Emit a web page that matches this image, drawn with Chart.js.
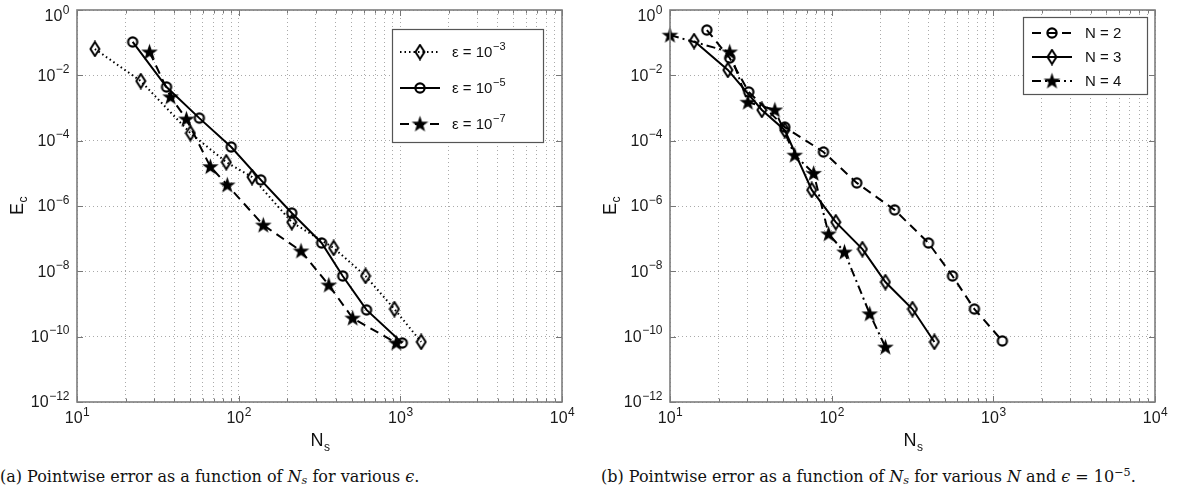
<!DOCTYPE html>
<html>
<head>
<meta charset="utf-8">
<script src="https://cdn.jsdelivr.net/npm/chart.js@4.4.0/dist/chart.umd.min.js"></script>
<style>
  body { margin: 0; background: #fff; width: 1183px; height: 494px; position: relative; overflow: hidden; }
  canvas { position: absolute; top: 0; }
  #errEps { left: 0; }
  #errOrder { left: 590px; }
  .caption {
    position: absolute; top: 467px; line-height: 20px;
    font-family: "DejaVu Serif", "Liberation Serif", serif; font-size: 16px;
    color: #111; white-space: nowrap;
  }
  .caption sub { font-size: 70%; vertical-align: -0.2em; line-height: 0; }
  .caption sup { font-size: 70%; vertical-align: 0.55em; line-height: 0; }
</style>
</head>
<body>
<canvas id="errEps" width="590" height="460"></canvas>
<canvas id="errOrder" width="593" height="460"></canvas>
<div class="caption" style="left:0">(a) Pointwise error as a function of <i>N<sub>s</sub></i> for various <i>ϵ</i>.</div>
<div class="caption" style="left:601px">(b) Pointwise error as a function of <i>N<sub>s</sub></i> for various <i>N</i> and <i>ϵ</i> = 10<sup>−5</sup>.</div>
<script>
// panel (a): error vs number of samples for three tolerances
const nsEps3 = [12.9, 24.8, 50.3, 83.8, 121, 213, 387, 609, 919, 1346];
const errEps3 = [6.4e-2, 6.7e-3, 1.7e-4, 2.2e-5, 7.7e-6, 3.2e-7, 5.2e-8, 7.2e-9, 7.0e-10, 6.9e-11];
const nsEps5 = [22.1, 35.8, 57.1, 89.9, 137, 213, 326, 440, 618, 1028];
const errEps5 = [0.105, 4.4e-3, 4.9e-4, 6.4e-5, 6.3e-6, 6.1e-7, 7.4e-8, 7.2e-9, 6.6e-10, 6.4e-11];
const nsEps7 = [28.1, 37.9, 47.5, 66.8, 85, 142, 243, 361, 507, 944];
const errEps7 = [0.052, 2.2e-3, 4.6e-4, 1.6e-5, 4.4e-6, 2.6e-7, 4.2e-8, 3.8e-9, 3.7e-10, 6.4e-11];

// panel (b): error vs number of samples for N = 2, 3, 4
const nsN2 = [16.9, 23.4, 30.7, 51.3, 89, 143, 245, 397, 559, 764, 1137];
const errN2 = [0.244, 0.034, 3.1e-3, 2.6e-4, 4.5e-5, 5.1e-6, 7.6e-7, 7.4e-8, 7.2e-9, 7.0e-10, 7.4e-11];
const nsN3 = [14.1, 22.8, 37, 51.3, 75.3, 106, 155, 215, 316, 432];
const errN3 = [0.112, 0.0146, 8.7e-4, 2.1e-4, 3.1e-6, 3.2e-7, 4.8e-8, 4.7e-9, 7.0e-10, 6.9e-11];
const nsN4 = [10, 23.4, 30.3, 44.5, 59.1, 77.4, 95.7, 120, 172, 215];
const errN4 = [0.17, 0.052, 1.5e-3, 8.7e-4, 3.6e-5, 1.0e-5, 1.4e-7, 3.9e-8, 5.0e-10, 4.8e-11];

// axis ticks (powers of ten)
const xTickExps = [1, 2, 3, 4];
const yTickExps = [0, -2, -4, -6, -8, -10, -12];

const SANS = '"Liberation Sans", Arial, Helvetica, sans-serif';

// x grid: every 1..9 x 10^n between 10 and 10^4
const xGrid = [];
for (let e = 1; e < 4; e++) for (let m = 1; m < 10; m++) xGrid.push(m * Math.pow(10, e));
xGrid.push(1e4);

function markerCanvas(w, h, draw) {
    const c = document.createElement('canvas');
    c.width = w;
    c.height = h;
    draw(c.getContext('2d'), w, h);
    return c;
}

const diamondMark = markerCanvas(12, 17, (g, w, h) => {
    g.beginPath();
    g.moveTo(w / 2, 1.5);
    g.lineTo(w - 1.5, h / 2);
    g.lineTo(w / 2, h - 1.5);
    g.lineTo(1.5, h / 2);
    g.closePath();
    g.lineWidth = 2;
    g.strokeStyle = '#000';
    g.stroke();
});

const circleMark = markerCanvas(14, 14, (g) => {
    g.beginPath();
    g.arc(7, 7, 4.6, 0, Math.PI * 2);
    g.lineWidth = 2.2;
    g.strokeStyle = '#000';
    g.stroke();
});

const starMark = markerCanvas(19, 19, (g) => {
    g.beginPath();
    for (let i = 0; i < 10; i++) {
        const r = i % 2 ? 3.5 : 8.8;
        const a = -Math.PI / 2 + i * Math.PI / 5;
        g.lineTo(9.5 + r * Math.cos(a), 10 + r * Math.sin(a));
    }
    g.closePath();
    g.fillStyle = '#000';
    g.fill();
});

function toPoints(xs, ys) {
    return xs.map((x, i) => ({ x: x, y: ys[i] }));
}

function series(label, xs, ys, dash, marker) {
    return {
        label: label,
        data: toPoints(xs, ys),
        borderColor: '#000',
        borderWidth: 2,
        borderDash: dash,
        pointStyle: marker,
        pointRadius: 6,
        tension: 0,
        fill: false,
        clip: false
    };
}

// "10" with a raised exponent
function drawPow(ctx, base, exp, x, y, align, size) {
    const sup = exp < 0 ? '\u2212' + (-exp) : String(exp);
    const small = Math.round(size * 0.72);
    ctx.font = size + 'px ' + SANS;
    const wb = ctx.measureText(base).width;
    ctx.font = small + 'px ' + SANS;
    const ws = ctx.measureText(sup).width;
    let x0 = x;
    if (align === 'right') x0 = x - wb - ws;
    if (align === 'center') x0 = x - (wb + ws) / 2;
    ctx.textAlign = 'left';
    ctx.textBaseline = 'middle';
    ctx.font = size + 'px ' + SANS;
    ctx.fillText(base, x0, y);
    ctx.font = small + 'px ' + SANS;
    ctx.fillText(sup, x0 + wb + 0.5, y - size * 0.42);
}

const matlabAxes = {
    id: 'matlabAxes',
    afterDatasetsDraw(chart, args, opts) {
        const { ctx, chartArea: a, scales: { x, y } } = chart;
        ctx.save();

        // inward tick marks on all four sides
        ctx.strokeStyle = '#777';
        ctx.lineWidth = 1;
        ctx.beginPath();
        xGrid.forEach(v => {
            const px = Math.round(x.getPixelForValue(v)) + 0.5;
            const major = Math.abs(Math.log10(v) % 1) < 1e-9;
            const len = major ? 6 : 3.5;
            ctx.moveTo(px, a.bottom); ctx.lineTo(px, a.bottom - len);
            ctx.moveTo(px, a.top); ctx.lineTo(px, a.top + len);
        });
        yTickExps.forEach(e => {
            const py = Math.round(y.getPixelForValue(Math.pow(10, e))) + 0.5;
            ctx.moveTo(a.left, py); ctx.lineTo(a.left + 6, py);
            ctx.moveTo(a.right, py); ctx.lineTo(a.right - 6, py);
        });
        ctx.stroke();

        // frame
        ctx.strokeStyle = '#7d7d7d';
        ctx.lineWidth = 1.6;
        ctx.strokeRect(a.left, a.top, a.right - a.left, a.bottom - a.top);

        // tick labels
        ctx.fillStyle = '#1a1a1a';
        yTickExps.forEach(e => {
            const py = y.getPixelForValue(Math.pow(10, e));
            drawPow(ctx, '10', e, a.left - 8, Math.max(py + 1, 17), 'right', 16);
        });
        xTickExps.forEach(e => {
            const px = x.getPixelForValue(Math.pow(10, e));
            drawPow(ctx, '10', e, px, a.bottom + 17, 'center', 16);
        });

        // axis titles
        ctx.fillStyle = '#111';
        ctx.textBaseline = 'middle';
        const cx = (a.left + a.right) / 2;
        ctx.font = '18px ' + SANS;
        const wN = ctx.measureText('N').width;
        ctx.textAlign = 'left';
        ctx.fillText('N', cx - 9, a.bottom + 39);
        ctx.font = '12px ' + SANS;
        ctx.fillText('s', cx - 9 + wN + 0.5, a.bottom + 46);

        ctx.save();
        ctx.translate(a.left - 59, (a.top + a.bottom) / 2);
        ctx.rotate(-Math.PI / 2);
        ctx.font = '18px ' + SANS;
        const wE = ctx.measureText('E').width;
        ctx.fillText('E', -9, 0);
        ctx.font = '12px ' + SANS;
        ctx.fillText('c', -9 + wE + 0.5, 6);
        ctx.restore();

        // legend box
        const L = opts.box;
        ctx.fillStyle = '#fff';
        ctx.fillRect(L.x, L.y, L.w, L.h);
        ctx.strokeStyle = '#555';
        ctx.lineWidth = 1.2;
        ctx.strokeRect(L.x + 0.5, L.y + 0.5, L.w, L.h);

        chart.data.datasets.forEach((ds, i) => {
            const ly = L.y + L.first + i * L.step;
            ctx.strokeStyle = '#000';
            ctx.lineWidth = 2;
            ctx.setLineDash(ds.borderDash || []);
            ctx.beginPath();
            ctx.moveTo(L.x + L.lineFrom, ly);
            ctx.lineTo(L.x + L.lineTo, ly);
            ctx.stroke();
            ctx.setLineDash([]);
            const m = ds.pointStyle;
            const mx = L.x + (L.lineFrom + L.lineTo) / 2;
            ctx.drawImage(m, mx - m.width / 2, ly - m.height / 2);

            ctx.fillStyle = '#111';
            const parts = ds.label.split('^');
            if (parts.length > 1) {
                drawPow(ctx, parts[0], Number(parts[1]), L.x + L.text, ly + 1, 'left', 15);
            } else {
                ctx.font = '15px ' + SANS;
                ctx.textAlign = 'left';
                ctx.textBaseline = 'middle';
                ctx.fillText(ds.label, L.x + L.text, ly + 1);
            }
        });

        ctx.restore();
    }
};

function makeChart(id, datasets, padLeft, box) {
    const ctx = document.getElementById(id).getContext('2d');
    return new Chart(ctx, {
        type: 'line',
        data: { datasets: datasets },
        plugins: [matlabAxes],
        options: {
            responsive: false,
            animation: false,
            events: [],
            layout: { padding: { left: padLeft, right: 28, top: 10, bottom: 58 } },
            plugins: {
                legend: { display: false },
                tooltip: { enabled: false },
                matlabAxes: { box: box }
            },
            scales: {
                x: {
                    type: 'logarithmic',
                    min: 10,
                    max: 1e4,
                    afterBuildTicks: s => { s.ticks = xGrid.map(v => ({ value: v })); },
                    ticks: { display: false },
                    grid: { color: '#aaaaaa', lineWidth: 1, drawTicks: false },
                    border: { display: false, dash: [1, 3] }
                },
                y: {
                    type: 'logarithmic',
                    min: 1e-12,
                    max: 1,
                    afterBuildTicks: s => { s.ticks = yTickExps.map(e => ({ value: Math.pow(10, e) })); },
                    ticks: { display: false },
                    grid: { color: '#aaaaaa', lineWidth: 1, drawTicks: false },
                    border: { display: false, dash: [1, 3] }
                }
            }
        }
    });
}

makeChart('errEps', [
    series('\u03b5 = 10^-3', nsEps3, errEps3, [1.5, 3], diamondMark),
    series('\u03b5 = 10^-5', nsEps5, errEps5, [], circleMark),
    series('\u03b5 = 10^-7', nsEps7, errEps7, [9, 6], starMark)
], 77, { x: 392, y: 29, w: 151, h: 113, first: 23, step: 36, lineFrom: 8, lineTo: 48, text: 60 });

makeChart('errOrder', [
    series('N = 2', nsN2, errN2, [9, 6], circleMark),
    series('N = 3', nsN3, errN3, [], diamondMark),
    series('N = 4', nsN4, errN4, [9, 4, 2, 4], starMark)
], 80, { x: 433, y: 17, w: 124, h: 77, first: 16, step: 24, lineFrom: 9, lineTo: 49, text: 62 });
</script>
</body>
</html>
